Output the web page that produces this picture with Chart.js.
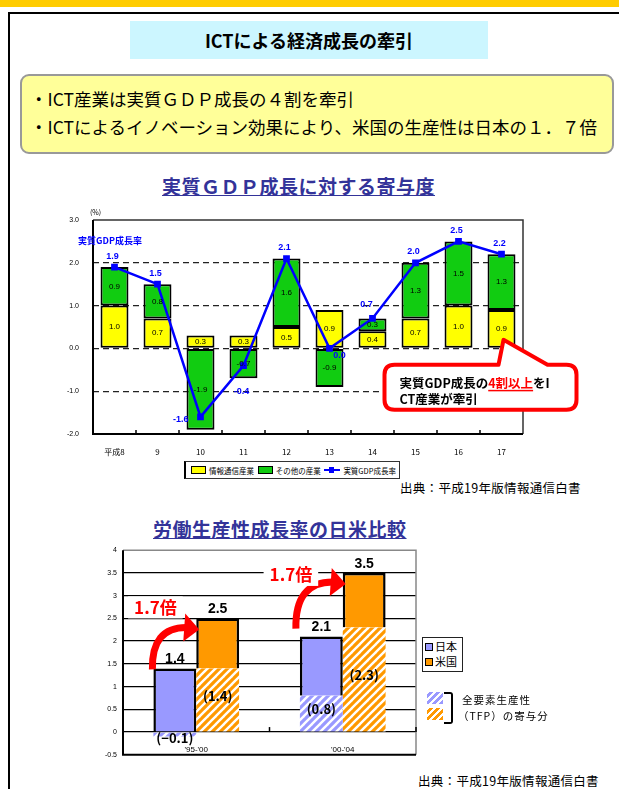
<!DOCTYPE html>
<html>
<head>
<meta charset="utf-8">
<script src="https://cdn.jsdelivr.net/npm/chart.js@4.4.0/dist/chart.umd.min.js"></script>
<style>
body{margin:0;width:619px;height:789px;overflow:hidden;background:#fff;position:relative;font-family:"Noto Sans CJK JP","Noto Sans",sans-serif;color:#000}
.abs{position:absolute}
#topbar{left:0;top:0;width:619px;height:7px;background:#ffcc00}
#frame{left:8px;top:12px;width:660px;height:820px;border:2px solid #000;box-sizing:border-box}
#title{left:130px;top:21px;width:358px;height:38px;background:#ccf6ff;font-weight:bold;font-size:18px;text-align:center;line-height:38px}
#summary{left:20px;top:74px;width:594px;height:80px;background:#ffff99;border:2px solid #999;border-radius:9px;box-sizing:border-box;font-size:17.5px;padding:9px 0 0 8px;line-height:28px;white-space:nowrap}
.sub{font-weight:bold;font-size:19px;color:#333399;text-decoration:underline;white-space:nowrap;letter-spacing:0.5px}
#sub1{left:162px;top:172px}
#sub2{left:153px;top:515px}
.src{font-size:12.5px;white-space:nowrap;letter-spacing:0.3px}
#src1{left:400px;top:478px}
#src2{left:418px;top:771px}
#legend1{left:184px;top:461px;height:16px;border:1px solid #333;border-left:2px solid #000;background:#fff;display:flex;align-items:center;font-size:7.5px;padding:0 3px;white-space:nowrap}
#legend1 .sw{display:inline-block;width:13px;height:6px;border:1.5px solid #000;margin:0 3px 0 2px}
#legend1 .ln{display:inline-block;width:16px;height:2px;background:#0000ff;position:relative;margin:0 3px 0 2px}
#legend1 .ln i{position:absolute;left:5px;top:-2px;width:5px;height:6px;background:#0000ff}
#legend2{left:422px;top:637px;width:41px;height:35px;border:1.5px solid #222;box-sizing:border-box;background:#fff;font-size:11px;line-height:15px;padding:1px 0 0 2px}
#legend2 .sw{display:inline-block;width:6px;height:6px;border:1.5px solid #000;margin-right:2px;vertical-align:middle;position:relative;top:-1px}
.hs{position:absolute;width:16px;height:12px}
#bracket{left:444px;top:692px;width:7px;height:28px;border:2.5px solid #000;border-left:none;border-radius:0 3px 3px 0}
.tfp{font-size:10.5px;white-space:nowrap;letter-spacing:1px}
#chart1wrap{left:40px;top:195px;width:560px;height:265px}
#chart2wrap{left:80px;top:540px;width:345px;height:225px}
</style>
</head>
<body>
<div class="abs" id="topbar"></div>
<div class="abs" id="frame"></div>
<div class="abs" id="title">ICTによる経済成長の牽引</div>
<div class="abs" id="summary">・ICT産業は実質ＧＤＰ成長の４割を牽引<br>・ICTによるイノベーション効果により、米国の生産性は日本の１．７倍</div>
<div class="abs sub" id="sub1">実質ＧＤＰ成長に対する寄与度</div>
<div class="abs" id="chart1wrap"><canvas id="gdpChart" width="560" height="265"></canvas></div>
<div class="abs" id="legend1"><span class="sw" style="background:#ffff00"></span>情報通信産業&nbsp;<span class="sw" style="background:#11cc11"></span>その他の産業&nbsp;<span class="ln"><i></i></span>実質GDP成長率</div>
<div class="abs src" id="src1">出典：平成19年版情報通信白書</div>
<div class="abs sub" id="sub2">労働生産性成長率の日米比較</div>
<div class="abs" id="chart2wrap"><canvas id="tfpChart" width="345" height="225"></canvas></div>
<div class="abs" id="legend2"><span class="sw" style="background:#9999ff"></span>日本<br><span class="sw" style="background:#ff9900"></span>米国</div>
<div class="hs" style="left:427px;top:692px;background:repeating-linear-gradient(-45deg,#9999ff 0 3px,#fff 3px 5px)"></div>
<div class="hs" style="left:427px;top:708px;background:repeating-linear-gradient(-45deg,#ff9900 0 3px,#fff 3px 5px)"></div>
<div class="abs" id="bracket"></div>
<div class="abs tfp" style="left:462px;top:692px">全要素生産性</div>
<div class="abs tfp" style="left:458px;top:708px">（TFP）の寄与分</div>
<div class="abs src" id="src2">出典：平成19年版情報通信白書</div>

<script>
// contribution to real GDP growth (%)
const years = ['平成8', '9', '10', '11', '12', '13', '14', '15', '16', '17'];
const ictShare = [1.0, 0.7, 0.3, 0.3, 0.5, 0.9, 0.4, 0.7, 1.0, 0.9];
const otherShare = [0.9, 0.8, -1.9, -0.7, 1.6, -0.9, 0.3, 1.3, 1.5, 1.3];
const gdpGrowth = [1.9, 1.5, -1.6, -0.4, 2.1, 0.0, 0.7, 2.0, 2.5, 2.2];

// labour productivity growth, Japan vs US (%)
const periods = ["'95-'00", "'00-'04"];
const japanTotal = [1.4, 2.1];
const japanTfp = [-0.1, 0.8];
const usTotal = [2.5, 3.5];
const usTfp = [1.4, 2.3];

const JP = '"Noto Sans CJK JP", sans-serif';

function hatch(color) {
    let c = document.createElement('canvas');
    c.width = 8; c.height = 8;
    let g = c.getContext('2d');
    g.fillStyle = color;
    g.fillRect(0, 0, 8, 8);
    g.strokeStyle = '#fff';
    g.lineWidth = 2.4;
    [[-4, 4, 4, -4], [0, 8, 8, 0], [4, 12, 12, 4]].forEach(function (p) {
        g.beginPath(); g.moveTo(p[0], p[1]); g.lineTo(p[2], p[3]); g.stroke();
    });
    return g.createPattern(c, 'repeat');
}

// ---------- chart 1 ----------
const gdpDecor = {
    id: 'gdpDecor',
    beforeDatasetsDraw(chart) {
        const ctx = chart.ctx, a = chart.chartArea;
        ctx.save();
        ctx.strokeStyle = '#333';
        ctx.lineWidth = 1.5;
        ctx.beginPath();
        ctx.moveTo(a.left, a.top); ctx.lineTo(a.right, a.top); ctx.lineTo(a.right, a.bottom);
        ctx.stroke();
        ctx.strokeStyle = '#000';
        ctx.lineWidth = 2;
        ctx.beginPath();
        ctx.moveTo(a.left, a.top); ctx.lineTo(a.left, a.bottom); ctx.lineTo(a.right, a.bottom);
        ctx.stroke();
        // category ticks
        const xs = chart.scales.x;
        const step = xs.getPixelForValue(1) - xs.getPixelForValue(0);
        ctx.lineWidth = 1.5;
        for (let i = 1; i < years.length; i++) {
            let x = xs.getPixelForValue(i) - step / 2;
            ctx.beginPath(); ctx.moveTo(x, a.bottom); ctx.lineTo(x, a.bottom - 4); ctx.stroke();
        }
        ctx.fillStyle = '#000';
        ctx.font = '7px ' + JP;
        ctx.textAlign = 'left';
        ctx.textBaseline = 'middle';
        ctx.fillText('(%)', a.left - 3, a.top - 8);
        ctx.fillStyle = '#0000ff';
        ctx.font = 'bold 9px ' + JP;
        ctx.fillText('実質GDP成長率', a.left - 15, a.top + 21);
        ctx.restore();
    },
    afterDatasetsDraw(chart) {
        const ctx = chart.ctx;
        ctx.save();
        ctx.textAlign = 'center';
        ctx.textBaseline = 'middle';
        ctx.fillStyle = '#000';
        ctx.font = '8px "Liberation Sans", Arial, sans-serif';
        [0, 1].forEach(function (d) {
            chart.getDatasetMeta(d).data.forEach(function (bar, i) {
                let v = chart.data.datasets[d].data[i];
                ctx.fillText(v.toFixed(1), bar.x, (bar.y + bar.base) / 2);
            });
        });
        // growth rate labels
        const place = {2: [-12, 3, 'right'], 3: [-2, 26, 'center'], 5: [10, 7, 'center'], 6: [-6, -14, 'center']};
        ctx.fillStyle = '#0000ff';
        ctx.font = 'bold 9px "Liberation Sans", Arial, sans-serif';
        chart.getDatasetMeta(2).data.forEach(function (pt, i) {
            let p = place[i] || [-2, -11, 'center'];
            ctx.textAlign = p[2];
            ctx.fillText(gdpGrowth[i].toFixed(1), pt.x + p[0], pt.y + p[1]);
        });
        ctx.restore();
    },
    afterDraw(chart) {
        const ctx = chart.ctx;
        const tx = chart.scales.x.getPixelForValue(9) + 2;
        const ty = chart.scales.y.getPixelForValue(0.2);
        const l = tx - 119, r = tx + 73, t = ty + 25, b = ty + 70, rad = 10;
        ctx.save();
        ctx.beginPath();
        ctx.moveTo(l + rad, t);
        ctx.lineTo(tx - 5, t);
        ctx.lineTo(tx, ty);
        ctx.lineTo(tx + 44, t);
        ctx.lineTo(r - rad, t);
        ctx.quadraticCurveTo(r, t, r, t + rad);
        ctx.lineTo(r, b - rad);
        ctx.quadraticCurveTo(r, b, r - rad, b);
        ctx.lineTo(l + rad, b);
        ctx.quadraticCurveTo(l, b, l, b - rad);
        ctx.lineTo(l, t + rad);
        ctx.quadraticCurveTo(l, t, l + rad, t);
        ctx.closePath();
        ctx.fillStyle = '#fff';
        ctx.fill();
        ctx.strokeStyle = '#ff0000';
        ctx.lineWidth = 4;
        ctx.lineJoin = 'round';
        ctx.stroke();
        ctx.font = 'bold 12.5px ' + JP;
        ctx.textBaseline = 'middle';
        ctx.textAlign = 'left';
        let x = l + 15, y1 = t + 18, y2 = t + 34;
        ctx.fillStyle = '#000';
        ctx.fillText('実質GDP成長の', x, y1);
        x += ctx.measureText('実質GDP成長の').width;
        ctx.fillStyle = '#ff0000';
        ctx.fillText('4割以上', x, y1);
        let w = ctx.measureText('4割以上').width;
        ctx.fillRect(x, y1 + 7, w, 1.5);
        x += w;
        ctx.fillStyle = '#000';
        ctx.fillText('をI', x, y1);
        ctx.fillText('CT産業が牽引', l + 15, y2);
        ctx.restore();
    }
};

new Chart(document.getElementById('gdpChart'), {
    type: 'bar',
    data: {
        labels: years,
        datasets: [
            {label: '情報通信産業', data: ictShare, backgroundColor: '#ffff00', borderColor: '#000', borderWidth: 2, borderSkipped: false, order: 1},
            {label: 'その他の産業', data: otherShare, backgroundColor: '#11cc11', borderColor: '#000', borderWidth: 2, borderSkipped: false, order: 1},
            {label: '実質GDP成長率', type: 'line', data: gdpGrowth, borderColor: '#0000ff', backgroundColor: '#0000ff', borderWidth: 2.5, pointStyle: 'rect', pointRadius: 3, tension: 0, order: 0}
        ]
    },
    options: {
        responsive: false,
        animation: false,
        datasets: {bar: {barPercentage: 0.65, categoryPercentage: 1}},
        layout: {padding: {top: 25, right: 77, bottom: 0, left: 0}},
        plugins: {legend: {display: false}, tooltip: {enabled: false}},
        scales: {
            x: {
                stacked: true,
                grid: {display: false},
                border: {display: false},
                ticks: {color: '#000', padding: 5, font: {size: 8, family: JP}, maxRotation: 0},
                afterFit: function (s) { s.height = 26; }
            },
            y: {
                stacked: true,
                min: -2, max: 3,
                ticks: {stepSize: 1, color: '#000', padding: 14, font: {size: 7}, callback: v => v.toFixed(1)},
                grid: {drawTicks: false, lineWidth: 1.3, color: ctx => (ctx.tick.value === 3 || ctx.tick.value === -2) ? 'rgba(0,0,0,0)' : '#222'},
                border: {display: false, dash: [6, 4]},
                afterFit: function (s) { s.width = 53; }
            }
        }
    },
    plugins: [gdpDecor]
});

// ---------- chart 2 ----------
const tfpDecor = {
    id: 'tfpDecor',
    beforeDatasetsDraw(chart) {
        const ctx = chart.ctx, a = chart.chartArea, ys = chart.scales.y, xs = chart.scales.x;
        ctx.save();
        ctx.strokeStyle = '#888';
        ctx.lineWidth = 1.5;
        ctx.beginPath();
        ctx.moveTo(a.left, a.top); ctx.lineTo(a.right, a.top); ctx.lineTo(a.right, a.bottom);
        ctx.stroke();
        ctx.strokeStyle = '#000';
        ctx.lineWidth = 2;
        ctx.beginPath();
        ctx.moveTo(a.left, a.top); ctx.lineTo(a.left, a.bottom); ctx.lineTo(a.right, a.bottom);
        ctx.stroke();
        const step = xs.getPixelForValue(1) - xs.getPixelForValue(0);
        const y0 = ys.getPixelForValue(0);
        ctx.lineWidth = 1.5;
        for (let i = 1; i <= periods.length; i++) {
            let x = xs.getPixelForValue(i) - step / 2;
            ctx.beginPath(); ctx.moveTo(x, y0); ctx.lineTo(x, y0 - 5); ctx.stroke();
        }
        ctx.restore();
    },
    afterDatasetsDraw(chart) {
        const ctx = chart.ctx, ys = chart.scales.y, xs = chart.scales.x;
        const jpBars = chart.getDatasetMeta(1).data, usBars = chart.getDatasetMeta(3).data;
        const jpHatch = chart.getDatasetMeta(0).data, usHatch = chart.getDatasetMeta(2).data;
        ctx.save();
        ctx.textAlign = 'center';
        ctx.textBaseline = 'middle';
        ctx.fillStyle = '#000';
        ctx.font = '8px "Liberation Sans", Arial, sans-serif';
        periods.forEach(function (p, i) {
            ctx.fillText(p, xs.getPixelForValue(i), ys.getPixelForValue(0) + 18);
        });
        ctx.font = 'bold 14px "Liberation Sans", Arial, sans-serif';
        ctx.textBaseline = 'bottom';
        periods.forEach(function (p, i) {
            ctx.fillText(japanTotal[i].toFixed(1), jpBars[i].x, ys.getPixelForValue(japanTotal[i]) - 2);
            ctx.fillText(usTotal[i].toFixed(1), usBars[i].x, ys.getPixelForValue(usTotal[i]) - 2);
        });
        ctx.font = 'bold 13px ' + JP;
        ctx.textBaseline = 'middle';
        [[jpHatch, japanTfp], [usHatch, usTfp]].forEach(function (pair) {
            pair[0].forEach(function (bar, i) {
                let v = pair[1][i];
                let y = v < 0 ? bar.base + 5 : (bar.y + bar.base) / 2 - 4;
                ctx.fillText('(' + v.toFixed(1).replace('-', '−') + ')', bar.x, y);
            });
        });
        // "1.7倍" arrows
        const labelPos = [[2, -11], [-9, 2]];
        periods.forEach(function (p, i) {
            const jpLeft = jpBars[i].x - jpBars[i].width / 2;
            const usLeft = usBars[i].x - usBars[i].width / 2;
            const sx = jpLeft - 1 - 3 * i, sy = ys.getPixelForValue(japanTotal[i]) + 1 - 9 * i;
            const tipX = usLeft + 3, tipY = ys.getPixelForValue(usTotal[i]) + 11;
            ctx.strokeStyle = '#ff0000';
            ctx.fillStyle = '#ff0000';
            ctx.lineWidth = 7;
            ctx.beginPath();
            ctx.moveTo(sx, sy);
            ctx.quadraticCurveTo(sx - 1, tipY - 2, tipX - 13, tipY - 2);
            ctx.stroke();
            ctx.beginPath();
            ctx.moveTo(tipX, tipY);
            ctx.lineTo(tipX - 14, tipY - 16);
            ctx.lineTo(tipX - 16, tipY + 12);
            ctx.closePath();
            ctx.fill();
            const txt = '1.7倍';
            ctx.font = 'bold 17px ' + JP;
            const w = ctx.measureText(txt).width;
            const lx = jpLeft + labelPos[i][0], ly = ys.getPixelForValue(usTotal[i]) + labelPos[i][1];
            ctx.fillStyle = '#fff';
            ctx.fillRect(lx - w / 2 - 6, ly - 11, w + 12, 22);
            ctx.fillStyle = '#ff0000';
            ctx.textAlign = 'center';
            ctx.fillText(txt, lx, ly);
        });
        ctx.restore();
    }
};

const jpRest = japanTotal.map((t, i) => +(t - Math.max(japanTfp[i], 0)).toFixed(1));
const usRest = usTotal.map((t, i) => +(t - Math.max(usTfp[i], 0)).toFixed(1));

new Chart(document.getElementById('tfpChart'), {
    type: 'bar',
    data: {
        labels: periods,
        datasets: [
            {label: '日本TFP', data: japanTfp, stack: 'jp', backgroundColor: hatch('#9999ff'), borderWidth: 0},
            {label: '日本', data: jpRest, stack: 'jp', backgroundColor: '#9999ff', borderColor: '#000', borderWidth: 2.5},
            {label: '米国TFP', data: usTfp, stack: 'us', backgroundColor: hatch('#ff9900'), borderWidth: 0},
            {label: '米国', data: usRest, stack: 'us', backgroundColor: '#ff9900', borderColor: '#000', borderWidth: 2.5}
        ]
    },
    options: {
        responsive: false,
        animation: false,
        datasets: {bar: {barPercentage: 1, categoryPercentage: 0.585}},
        layout: {padding: {top: 9, right: 9, bottom: 5, left: 0}},
        plugins: {legend: {display: false}, tooltip: {enabled: false}},
        scales: {
            x: {stacked: true, display: false},
            y: {
                stacked: true,
                min: -0.5, max: 4,
                ticks: {stepSize: 0.5, color: '#000', padding: 6, font: {size: 7}, callback: v => String(v)},
                grid: {drawTicks: false, lineWidth: 1.3, color: ctx => (ctx.tick.value === 4 || ctx.tick.value === -0.5) ? 'rgba(0,0,0,0)' : '#000'},
                border: {display: false},
                afterFit: function (s) { s.width = 43; }
            }
        }
    },
    plugins: [tfpDecor]
});
</script>
</body>
</html>
